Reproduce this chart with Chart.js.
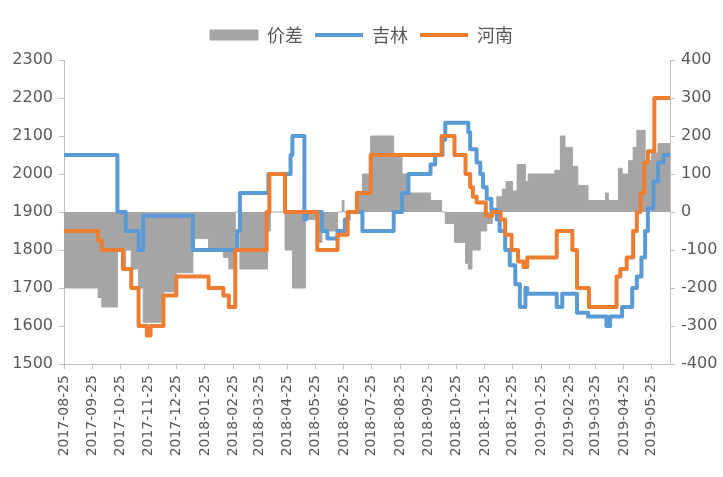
<!DOCTYPE html>
<html>
<head>
<meta charset="utf-8">
<script src="https://cdn.jsdelivr.net/npm/chart.js@4/dist/chart.umd.min.js"></script>
<style>
  body { margin: 0; background: #fff; }
  canvas { display: block; }
</style>
</head>
<body>
<canvas id="myChart" width="723" height="477"></canvas>
<script>
const tickLabels = ['2017-08-25', '2017-09-25', '2017-10-25', '2017-11-25', '2017-12-25', '2018-01-25',
    '2018-02-25', '2018-03-25', '2018-04-25', '2018-05-25', '2018-06-25', '2018-07-25', '2018-08-25',
    '2018-09-25', '2018-10-25', '2018-11-25', '2018-12-25', '2019-01-25', '2019-02-25', '2019-03-25',
    '2019-04-25', '2019-05-25']
const axisStart = '2017-08-25'
const axisEnd = '2019-06-14'

// 吉林 (dates where a new price starts)
const jilinDates = ['2017-08-25', '2017-10-22', '2017-10-31', '2017-11-14', '2017-11-19', '2018-01-12',
    '2018-03-01', '2018-03-04', '2018-04-04', '2018-04-28', '2018-04-30', '2018-05-13', '2018-05-15',
    '2018-06-01', '2018-06-07', '2018-06-18', '2018-06-26', '2018-06-30', '2018-07-15', '2018-08-18',
    '2018-08-27', '2018-09-03', '2018-09-27', '2018-10-02', '2018-10-10', '2018-10-13', '2018-11-07',
    '2018-11-09', '2018-11-16', '2018-11-20', '2018-11-23', '2018-11-27', '2018-12-02', '2018-12-08',
    '2018-12-11', '2018-12-17', '2018-12-22', '2018-12-28', '2019-01-02', '2019-01-08', '2019-01-10',
    '2019-02-11', '2019-02-17', '2019-03-05', '2019-03-17', '2019-04-06', '2019-04-10', '2019-04-23',
    '2019-05-04', '2019-05-09', '2019-05-14', '2019-05-18', '2019-05-21', '2019-05-27', '2019-06-01',
    '2019-06-07', '2019-06-14']
const jilinValues = [2050, 1900, 1850, 1800, 1890, 1800, 1850, 1950, 2000, 2050, 2100, 1880, 1900,
    1850, 1830, 1850, 1880, 1900, 1850, 1900, 1950, 2000, 2025, 2050, 2090, 2135, 2110, 2065, 2030,
    2000, 1965, 1935, 1905, 1880, 1850, 1800, 1760, 1710, 1650, 1700, 1685, 1650, 1685, 1635, 1625,
    1600, 1625, 1650, 1700, 1730, 1780, 1850, 1910, 1980, 2030, 2050, 2050]

// 河南
const henanDates = ['2017-08-25', '2017-10-01', '2017-10-05', '2017-10-28', '2017-11-06', '2017-11-14',
    '2017-11-23', '2017-11-27', '2017-12-11', '2017-12-25', '2018-01-29', '2018-02-14', '2018-02-20',
    '2018-02-27', '2018-04-02', '2018-04-05', '2018-04-22', '2018-05-27', '2018-06-18', '2018-06-29',
    '2018-07-09', '2018-07-24', '2018-10-09', '2018-10-23', '2018-11-04', '2018-11-09', '2018-11-12',
    '2018-11-16', '2018-11-26', '2018-12-03', '2018-12-12', '2018-12-17', '2018-12-24', '2018-12-31',
    '2019-01-06', '2019-01-10', '2019-02-11', '2019-02-28', '2019-03-05', '2019-03-18', '2019-04-17',
    '2019-04-21', '2019-04-28', '2019-05-05', '2019-05-09', '2019-05-13', '2019-05-17', '2019-05-21',
    '2019-05-28', '2019-06-14']
const henanValues = [1850, 1825, 1800, 1750, 1700, 1600, 1575, 1600, 1680, 1730, 1700, 1680, 1650,
    1800, 1900, 2000, 1900, 1800, 1840, 1900, 1950, 2050, 2100, 2050, 2000, 1965, 1940, 1925, 1890,
    1900, 1880, 1840, 1800, 1770, 1755, 1780, 1850, 1800, 1700, 1650, 1730, 1750, 1780, 1850, 1900,
    1950, 2030, 2060, 2200, 2200]

// 价差 (right axis)
const spreadDates = ['2017-08-25', '2017-10-01', '2017-10-05', '2017-10-22', '2017-10-28', '2017-10-31',
    '2017-11-06', '2017-11-14', '2017-11-19', '2017-12-11', '2017-12-25', '2018-01-12', '2018-01-29',
    '2018-02-14', '2018-02-20', '2018-02-27', '2018-03-04', '2018-04-03', '2018-04-06', '2018-04-22',
    '2018-04-30', '2018-05-14', '2018-05-27', '2018-06-01', '2018-06-18', '2018-06-23', '2018-06-25',
    '2018-07-09', '2018-07-15', '2018-07-24', '2018-08-18', '2018-08-27', '2018-09-03', '2018-09-27',
    '2018-10-09', '2018-10-13', '2018-10-23', '2018-11-04', '2018-11-07', '2018-11-11', '2018-11-20',
    '2018-11-27', '2018-12-03', '2018-12-08', '2018-12-14', '2018-12-18', '2018-12-25', '2018-12-30',
    '2019-01-08', '2019-01-11', '2019-02-09', '2019-02-15', '2019-02-20', '2019-02-28', '2019-03-06',
    '2019-03-17', '2019-04-05', '2019-04-08', '2019-04-19', '2019-04-23', '2019-04-30', '2019-05-05',
    '2019-05-09', '2019-05-18', '2019-05-25', '2019-06-01', '2019-06-14']
const spreadValues = [-200, -225, -250, -100, -150, -100, -150, -200, -290, -210, -160, -70, -100,
    -120, -150, 0, -150, -50, 0, -100, -200, -20, -80, -50, 0, 30, 0, 50, 100, 200, 150, 100, 50, 30,
    0, -30, -80, -135, -150, -100, -50, -30, 10, 40, 60, 80, 55, 125, 80, 100, 110, 200, 170, 120, 70,
    30, 50, 30, 115, 100, 135, 170, 215, 135, 155, 180, 180]

const dayOf = (str) => {
    const [y, m, d] = str.split('-').map(Number)
    const [y0, m0, d0] = axisStart.split('-').map(Number)
    return (Date.UTC(y, m - 1, d) - Date.UTC(y0, m0 - 1, d0)) / 86400000
}
const toPoints = (dates, values) => dates.map((d, i) => ({ x: dayOf(d), y: values[i] }))

const axisColor = '#BFBFBF'
const textColor = '#595959'

// push the plot down a bit below the legend
const legendGap = {
    id: 'legendGap',
    beforeInit(chart) {
        const fit = chart.legend.fit
        chart.legend.fit = function () {
            fit.bind(chart.legend)()
            this.height += 6
        }
    }
}

const ctx = document.getElementById('myChart')

new Chart(ctx, {
    type: 'line',
    data: {
        datasets: [{
            label: '河南',
            data: toPoints(henanDates, henanValues),
            borderColor: '#ED7D31',
            backgroundColor: '#ED7D31',
            borderWidth: 4,
            borderJoinStyle: 'round',
            stepped: true,
            pointRadius: 0,
            pointStyle: 'line',
            fill: false,
            yAxisID: 'y'
        }, {
            label: '吉林',
            data: toPoints(jilinDates, jilinValues),
            borderColor: '#5B9BD5',
            backgroundColor: '#5B9BD5',
            borderWidth: 4,
            borderJoinStyle: 'round',
            stepped: true,
            pointRadius: 0,
            pointStyle: 'line',
            fill: false,
            yAxisID: 'y'
        }, {
            label: '价差',
            data: toPoints(spreadDates, spreadValues),
            borderColor: '#A5A5A5',
            backgroundColor: '#A5A5A5',
            borderWidth: 1,
            stepped: true,
            pointRadius: 0,
            pointStyle: 'rect',
            fill: 'origin',
            yAxisID: 'y1'
        }]
    },
    options: {
        responsive: false,
        animation: false,
        layout: { padding: { top: 14, left: 0, right: 0, bottom: 0 } },
        plugins: {
            tooltip: { enabled: false },
            legend: {
                position: 'top',
                reverse: true,
                labels: {
                    usePointStyle: true,
                    pointStyleWidth: 48,
                    boxHeight: 10,
                    padding: 12,
                    color: textColor,
                    font: { family: '"Noto Sans CJK SC", sans-serif', size: 18 }
                }
            }
        },
        scales: {
            x: {
                type: 'linear',
                min: 0,
                max: dayOf(axisEnd),
                afterBuildTicks: (scale) => {
                    scale.ticks = tickLabels.map(t => ({ value: dayOf(t) }))
                },
                afterFit: (scale) => { scale.height = 113 },
                ticks: {
                    autoSkip: false,
                    minRotation: 90,
                    maxRotation: 90,
                    padding: 6,
                    color: textColor,
                    font: { family: '"DejaVu Sans", sans-serif', size: 14 },
                    callback: (value, index) => tickLabels[index]
                },
                grid: { drawOnChartArea: false, tickLength: 5, color: axisColor },
                border: { color: axisColor }
            },
            y: {
                position: 'left',
                min: 1500,
                max: 2300,
                afterFit: (scale) => { scale.width = 64 },
                ticks: {
                    stepSize: 100,
                    padding: 6,
                    color: textColor,
                    font: { family: '"DejaVu Sans", sans-serif', size: 16 },
                    callback: (value) => String(value)
                },
                grid: { drawOnChartArea: false, tickLength: 5, color: axisColor },
                border: { color: axisColor }
            },
            y1: {
                position: 'right',
                min: -400,
                max: 400,
                afterFit: (scale) => { scale.width = 53 },
                ticks: {
                    stepSize: 100,
                    padding: 6,
                    color: textColor,
                    font: { family: '"DejaVu Sans", sans-serif', size: 16 },
                    callback: (value) => String(value)
                },
                grid: { drawOnChartArea: false, tickLength: 5, color: axisColor },
                border: { color: axisColor }
            }
        }
    },
    plugins: [legendGap]
})
</script>
</body>
</html>
